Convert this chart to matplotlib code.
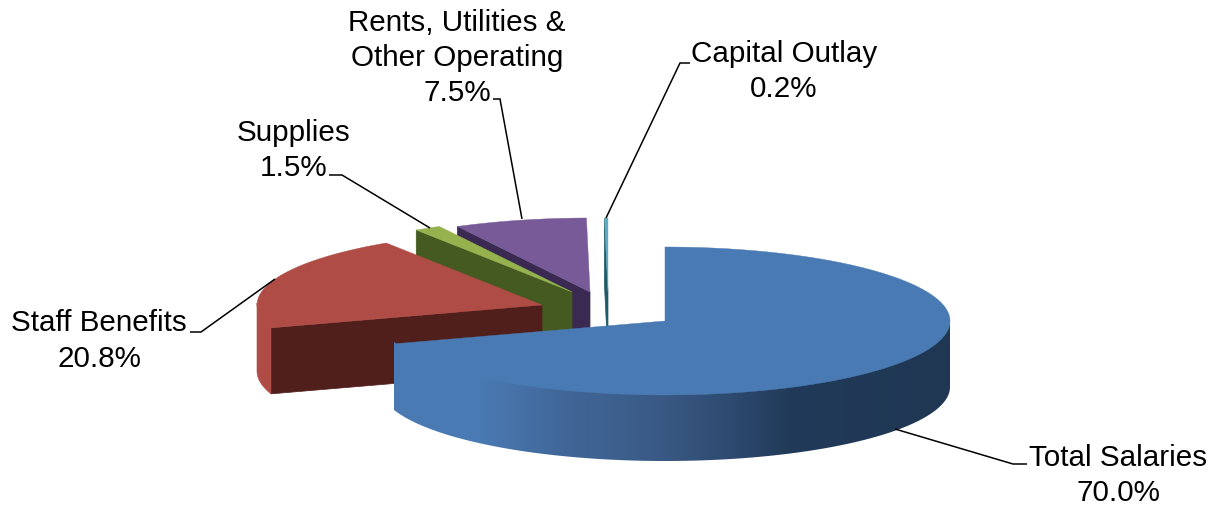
import numpy as np
import matplotlib
matplotlib.use("Agg")
import matplotlib.pyplot as plt
from matplotlib.colors import to_rgb
from matplotlib.patches import Polygon

plt.rcParams['font.family'] = ['Liberation Sans', 'DejaVu Sans']

# Data
categories = ["Total Salaries", "Staff Benefits", "Supplies",
              "Rents, Utilities &\nOther Operating", "Capital Outlay"]
shares = [70.0, 20.8, 1.5, 7.5, 0.2]

# Layout (figure pixels)
W, H = 1217, 510
RX, RY, DEPTH = 285, 74, 66
apex_x = [665, 542, 572, 590, 608]
apex_y = [322, 306, 293, 293, 293]
top_cols = ["#4a7ab3", "#b04c46", "#95b24e", "#775a97", "#62aabf"]
face_cols = ["#4a7ab3", "#501f1c", "#445a20", "#3a2a52", "#1e5a68"]
side_cols = ["#4a7ab3", "#b04c46", "#95b24e", "#775a97", "#62aabf"]
label_x = [1118, 99, 294, 457, 784]
label_y = [475.5, 341, 150.5, 58, 71.5]
leader_x = [[1027, 1013, 895], [190, 201, 275], [329, 342, 430], [493, 500, 522], [690, 680, 606]]
leader_y = [[465, 465, 430], [333, 333, 280], [176, 176, 229], [100, 100, 220], [64, 64, 219]]
shade_x = [394, 480, 557, 657, 723, 790, 950]
shade_cols = ["#4a7ab3", "#4a7ab3", "#41689a", "#3a5a85", "#2f4c72", "#213a59", "#1f3752"]

fig = plt.figure(figsize=(W / 100, H / 100), dpi=100, facecolor="white")
ax = fig.add_axes([0, 0, 1, 1])
ax.axis("off")


def rim(cx, cy, a):
    """Rim point for clockwise angle a (degrees from 12 o'clock)."""
    t = np.radians(a)
    return cx + RX * np.sin(t), cy - RY * np.cos(t)


edges = np.concatenate([[0], np.cumsum(shares)]) / sum(shares) * 360
shade_rgb = np.array([to_rgb(c) for c in shade_cols])

# Draw from back to front
for z, i in enumerate([4, 3, 2, 1, 0]):
    a0, a1 = edges[i], edges[i + 1]
    cx, cy = apex_x[i], apex_y[i]
    base = z * 5 + 2

    # Cut face on the trailing (left-facing) edge
    if i != 0:
        rx, ry = rim(cx, cy, a0)
        ax.fill([cx, rx, rx, cx], [cy, ry, ry + DEPTH, cy + DEPTH],
                color=face_cols[i], lw=0.5, zorder=base)

    # Outer wall: only the part on the near half of the ellipse
    lo, hi = max(a0, 90), min(a1, 270)
    if hi > lo:
        ang = np.linspace(lo, hi, int((hi - lo) * 2) + 2)
        xs, ys = rim(cx, cy, ang)
        wall = np.column_stack([np.r_[xs, xs[::-1]], np.r_[ys - 2, ys[::-1] + DEPTH]])
        if i == 0:
            # Horizontal colour ramp, clipped to the wall outline
            x0, x1 = wall[:, 0].min(), wall[:, 0].max()
            y0, y1 = wall[:, 1].min(), wall[:, 1].max()
            gx = np.arange(x0, x1 + 1)
            ramp = np.stack([np.interp(gx, shade_x, shade_rgb[:, c]) for c in range(3)], axis=1)
            im = ax.imshow(ramp[None, :, :], extent=[x0, x1, y1, y0], aspect="auto",
                           interpolation="bilinear", zorder=base + 1)
            im.set_clip_path(Polygon(wall, closed=True, transform=ax.transData))
        else:
            ax.fill(wall[:, 0], wall[:, 1], color=side_cols[i], lw=0.4, zorder=base + 1)

    # Top face
    ang = np.linspace(a0, a1, max(int((a1 - a0) * 2), 2) + 1)
    xs, ys = rim(cx, cy, ang)
    ax.fill(np.r_[cx, xs], np.r_[cy, ys], color=top_cols[i], lw=0.3, zorder=base + 2)

# Leaders and labels
for i, name in enumerate(categories):
    ax.plot(leader_x[i], leader_y[i], color="black", lw=1.1, zorder=40,
            solid_capstyle="butt", solid_joinstyle="miter")
    ax.text(label_x[i], label_y[i], f"{name}\n{shares[i]:.1f}%", ha="center", va="center",
            fontsize=21.3, color="black", linespacing=1.33, zorder=41)

ax.set_xlim(0, W)
ax.set_ylim(H, 0)
fig.savefig("out.png", dpi=100, facecolor="white")
